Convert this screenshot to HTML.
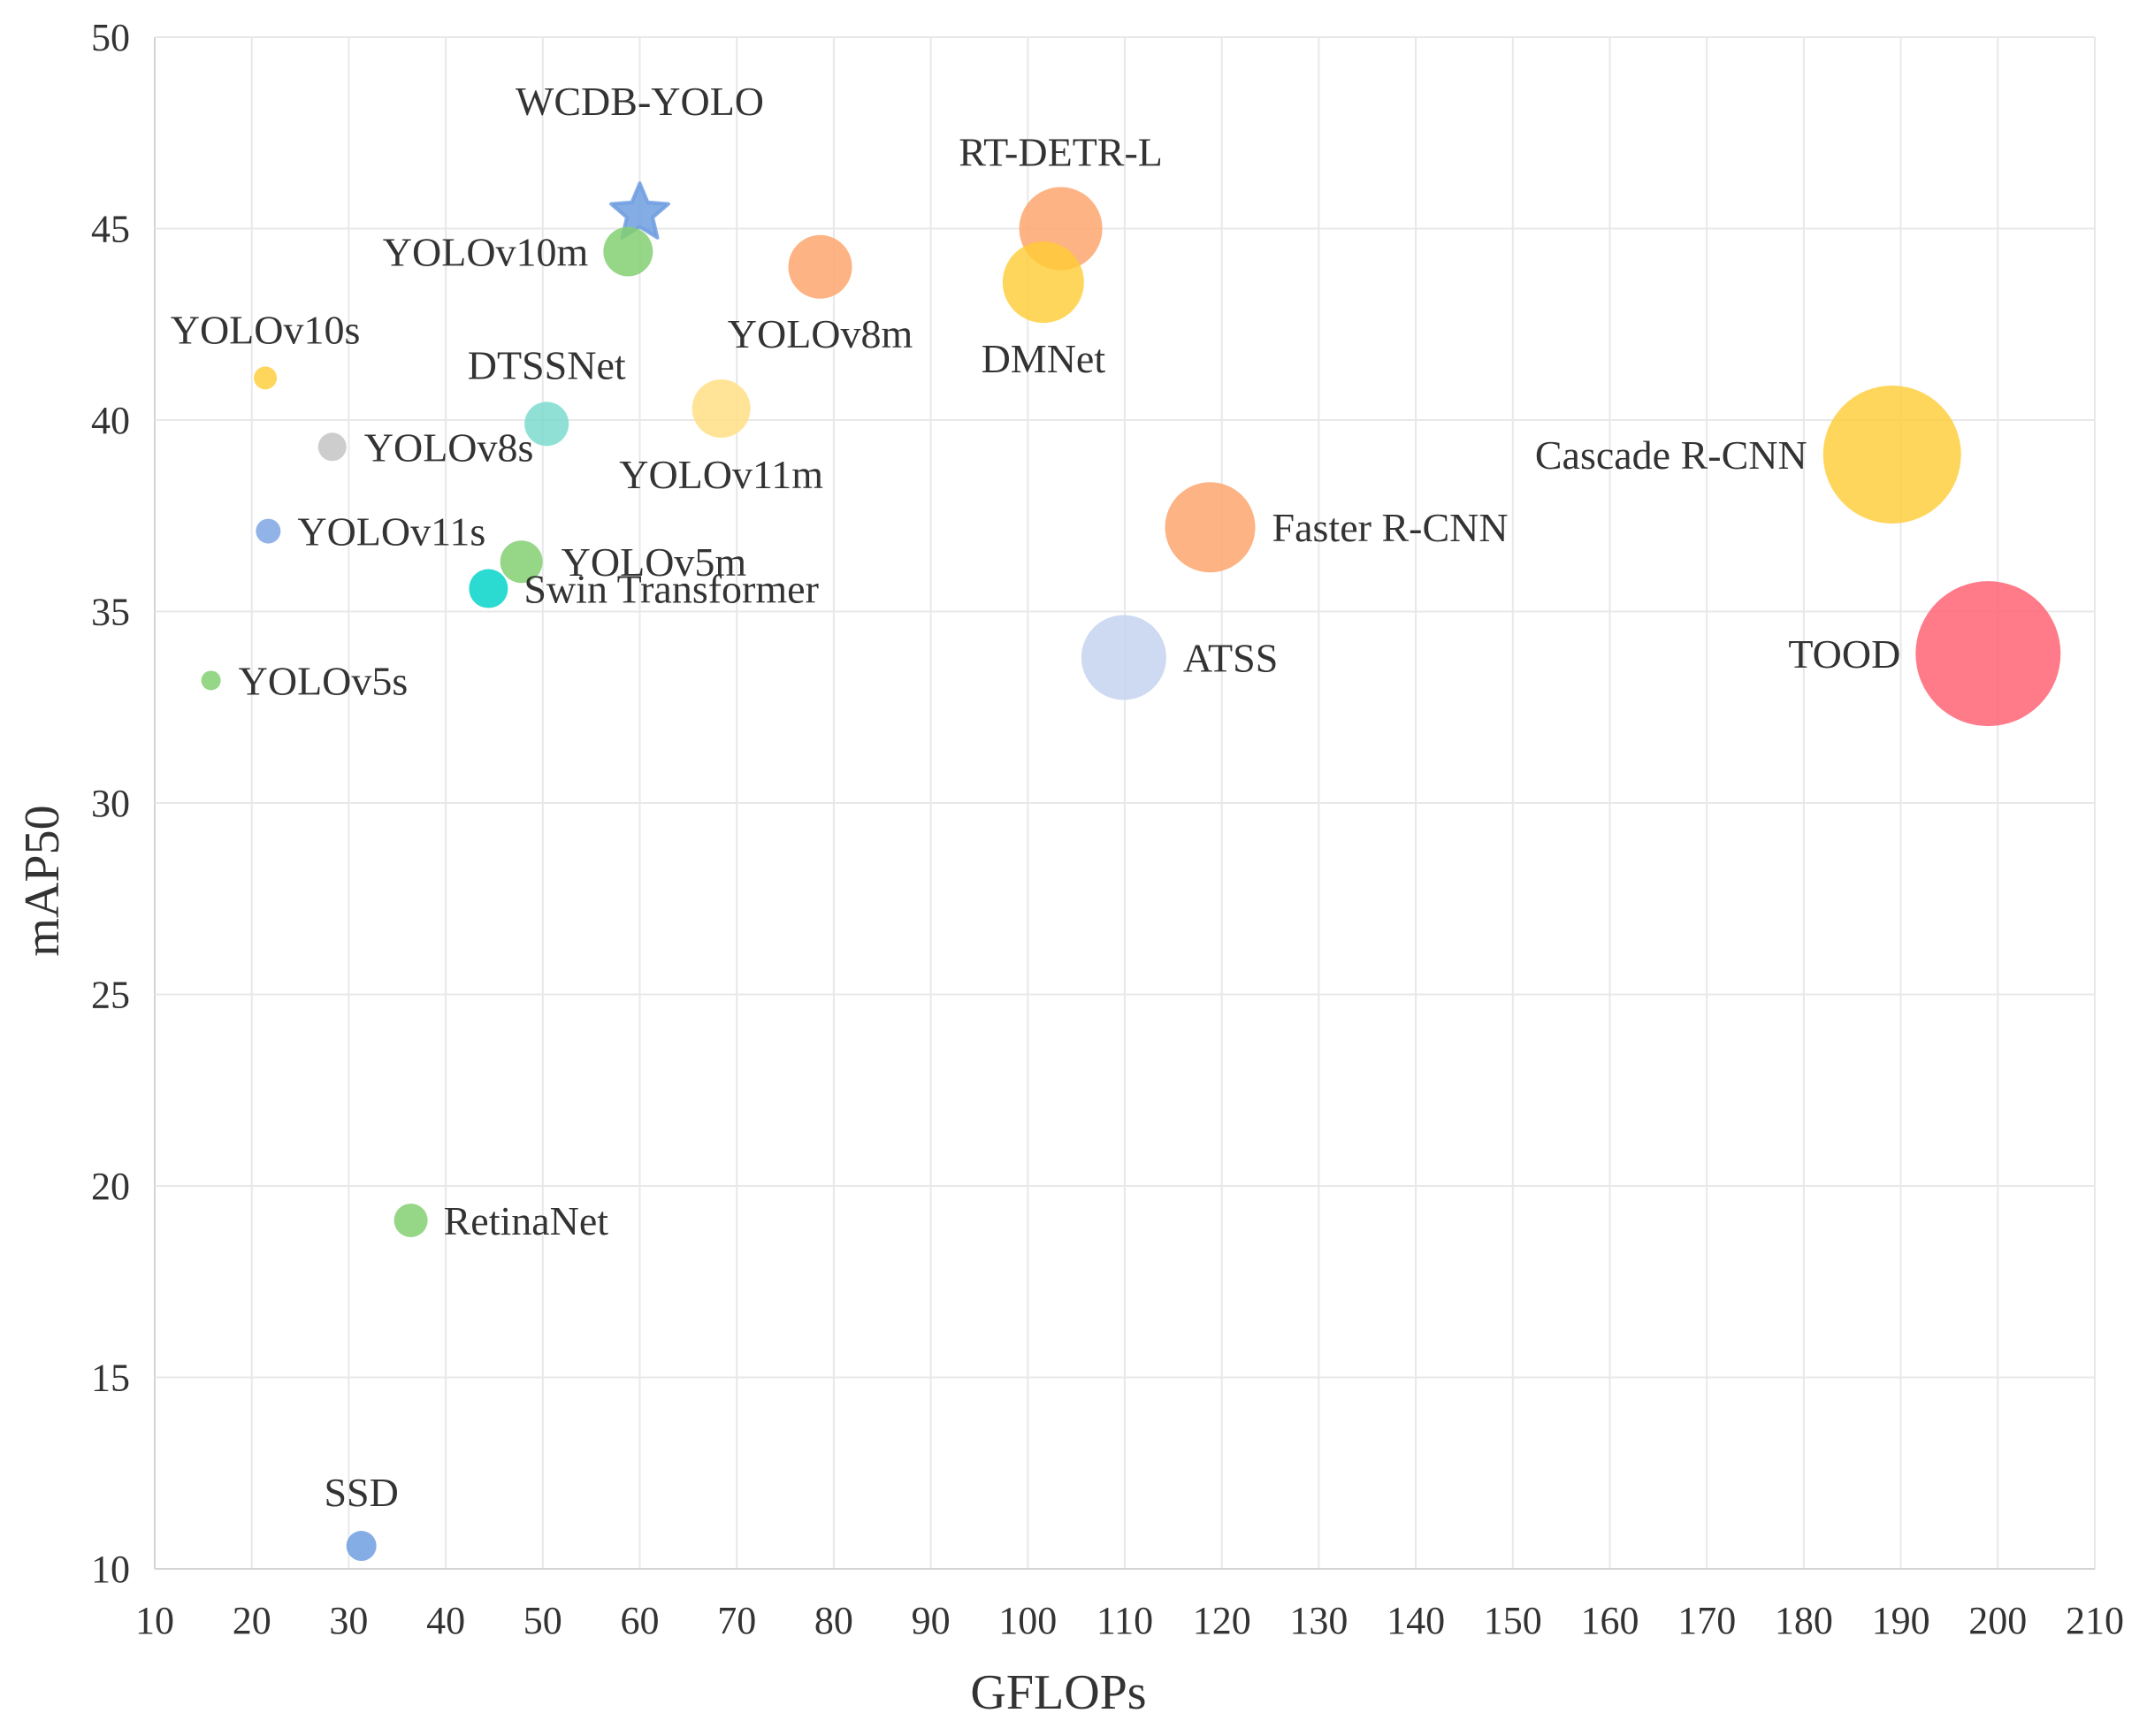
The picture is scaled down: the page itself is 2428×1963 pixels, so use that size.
<!DOCTYPE html>
<html><head><meta charset="utf-8"><style>
html,body{margin:0;padding:0;background:#fff;}
svg{display:block;font-family:"Liberation Serif",serif;}
</style></head><body>
<svg id="chart" width="2428" height="1963" viewBox="0 0 2428 1963" xmlns="http://www.w3.org/2000/svg">
<g id="grid"></g>
<g id="axes"></g>
<g id="marks"></g>
<g id="labels"></g>
<text x="1197" y="1932" font-size="56" text-anchor="middle" fill="#333">GFLOPs</text>
<text x="0" y="0" font-size="56" text-anchor="middle" fill="#333" transform="translate(66,996) rotate(-90)">mAP50</text>
</svg>
<script>
const names = ["WCDB-YOLO","YOLOv10m","YOLOv8m","RT-DETR-L","DMNet","YOLOv10s","DTSSNet","YOLOv11m","YOLOv8s","YOLOv11s","YOLOv5m","Swin Transformer","YOLOv5s","RetinaNet","SSD","Faster R-CNN","ATSS","Cascade R-CNN","TOOD"];
const gflops = [60,58.8,78.6,103.4,101.6,21.4,50.4,68.4,28.3,21.7,47.8,44.4,15.8,36.4,31.3,118.8,109.9,189.1,199.0];
const map50 = [45.4,44.4,44.0,45.0,43.6,41.1,39.9,40.3,39.3,37.1,36.3,35.6,33.2,19.1,10.6,37.2,33.8,39.1,33.9];
const bubbleSize = [31,28,36,47,46,13,25,33,16,14,24,22,11,19,17,51,48,78,82];
const xTicks = [10,20,30,40,50,60,70,80,90,100,110,120,130,140,150,160,170,180,190,200,210];
const yTicks = [10,15,20,25,30,35,40,45,50];

const colors = ["#6f9ee0","#84cf72","#fda66f","#fda66f","#ffcc33","#ffcc33","#76d8cc","#ffdf85","#c4c4c4","#7ea6e3","#84cf72","#14d6cc","#84cf72","#84cf72","#6f9ee0","#fda66f","#c6d3ee","#ffcc33","#ff6474"];
const opac = [0.85,0.85,0.85,0.85,0.8,0.8,0.8,0.85,0.85,0.85,0.85,0.9,0.85,0.85,0.85,0.85,0.85,0.8,0.85];
const labelDx = [0,-45,0,0,0,0,0,0,36,33,45,40,31,37,0,70,67,-96,-99];
const labelDy = [-111,16,91,-71,102,-39,-51,90,16,16,16,16,16,16,-45,16,16,16,16];
const labelAnchor = ["middle","end","middle","middle","middle","middle","middle","middle","start","start","start","start","start","start","middle","start","start","end","end"];

const X0=175, X1=2369, Y0=1774, Y1=42;
const xs = v => X0 + (v-10)/200*(X1-X0);
const ys = v => Y0 - (v-10)/40*(Y0-Y1);
const NS="http://www.w3.org/2000/svg";
function mk(tag, attrs, parent){const e=document.createElementNS(NS,tag);for(const k in attrs)e.setAttribute(k,attrs[k]);parent.appendChild(e);return e;}
const grid=document.getElementById('grid'), axes=document.getElementById('axes'), marks=document.getElementById('marks'), labels=document.getElementById('labels');

xTicks.forEach(t=>{
  const l=mk('line',{x1:xs(t),x2:xs(t),y1:Y1,y2:Y0,stroke:t===10?'#d4d4d4':'#e8e8e8','stroke-width':2},grid);
  
  
  const tx=mk('text',{x:xs(t),y:1847,'font-size':44,'text-anchor':'middle',fill:'#333'},axes);
  tx.textContent=t;
  
  
});
yTicks.forEach(t=>{
  const l=mk('line',{x1:X0,x2:X1,y1:ys(t),y2:ys(t),stroke:t===10?'#d4d4d4':'#e8e8e8','stroke-width':2},grid);
  
  
  const tx=mk('text',{x:147,y:ys(t)+15,'font-size':44,'text-anchor':'end',fill:'#333'},axes);
  tx.textContent=t;
  
  
});

function starPts(cx,cy,R){const r=R*0.45;let p=[];for(let i=0;i<10;i++){const a=-Math.PI/2+i*Math.PI/5;const rr=i%2?r:R;p.push((cx+rr*Math.cos(a)).toFixed(1)+','+(cy+rr*Math.sin(a)).toFixed(1));}return p.join(' ');}

names.forEach((n,i)=>{
  const cx=xs(gflops[i]), cy=ys(map50[i]);
  let m;
  if(i===0){
    m=mk('polygon',{points:starPts(cx,cy,bubbleSize[i]*1.1),fill:colors[i],'fill-opacity':opac[i],'stroke-linejoin':'round',stroke:colors[i],'stroke-opacity':0.85,'stroke-width':4},marks);
  } else {
    m=mk('circle',{cx:cx,cy:cy,r:bubbleSize[i],fill:colors[i],'fill-opacity':opac[i]},marks);
  }
  
  
  const t=mk('text',{x:cx+labelDx[i],y:cy+labelDy[i],'font-size':46,'text-anchor':labelAnchor[i],fill:'#333'},labels);
  t.textContent=n;
  
  
});
</script>
</body></html>
